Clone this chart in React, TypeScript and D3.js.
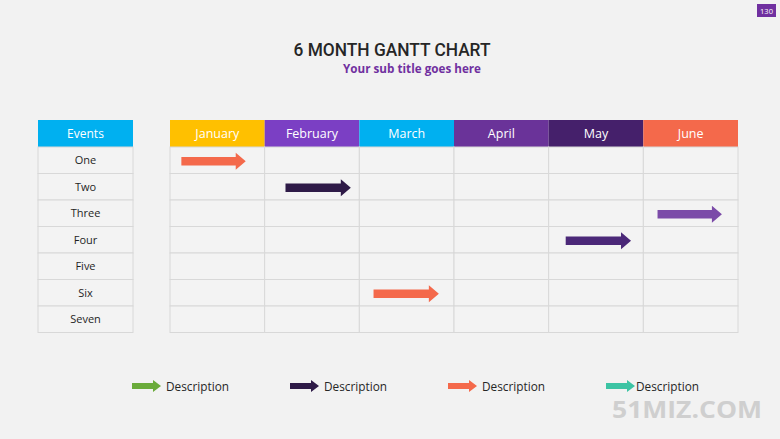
import React from "react";
import * as d3 from "d3";

const events = ["One", "Two", "Three", "Four", "Five", "Six", "Seven"];
const months = ["January", "February", "March", "April", "May", "June"];
const monthColors = ["#FFC000", "#7B3FC4", "#00B0F0", "#6A3399", "#45206B", "#F4694B"];
const tasks = [
  { event: "One", start: 0.12, end: 0.8, color: "#F4694B" },
  { event: "Two", start: 1.22, end: 1.91, color: "#2E1A47" },
  { event: "Three", start: 5.15, end: 5.83, color: "#7B4BA8" },
  { event: "Four", start: 4.18, end: 4.87, color: "#4B2878" },
  { event: "Six", start: 2.15, end: 2.84, color: "#F4694B" },
];
const legendColors = ["#6AAB3A", "#2E1A47", "#F4694B", "#3CC4A4"];
const legendLabels = ["Description", "Description", "Description", "Description"];

const W = 780, H = 439;
const FONT = "'Open Sans', 'Noto Sans', sans-serif";

function arrowPath(x0: number, x1: number, cy: number, shaft: number, head: number, headLen: number) {
  const p = d3.path();
  p.moveTo(x0, cy - shaft / 2);
  p.lineTo(x1 - headLen, cy - shaft / 2);
  p.lineTo(x1 - headLen, cy - head / 2);
  p.lineTo(x1, cy);
  p.lineTo(x1 - headLen, cy + head / 2);
  p.lineTo(x1 - headLen, cy + shaft / 2);
  p.lineTo(x0, cy + shaft / 2);
  p.closePath();
  return p.toString();
}

export default function App() {
  const x = d3.scaleLinear().domain([0, 6]).range([170, 738]);
  const y = d3.scaleBand<string>().domain(events).range([147, 332.5]);
  const headerTop = 120;
  const ex0 = 38, ex1 = 133;
  const grid = "#D8D8D8";
  const legendX = d3.scaleLinear().domain([0, 3]).range([132, 606]);

  return (
    <svg width={W} height={H} style={{ position: "absolute", left: 0, top: 0 }}>
      <rect width={W} height={H} fill="#F2F2F2" />
      {/* badge */}
      <rect x={757} y={4} width={19} height={13} fill="#7030A0" />
      <text x={766.5} y={13.5} fontSize={7.5} fill="#fff" textAnchor="middle" fontFamily={FONT}>130</text>
      {/* title */}
      <text x={392} y={55.5} textAnchor="middle" fontSize={18} fontWeight={500} fill="#262626"
        fontFamily="Roboto, sans-serif" textLength={197} lengthAdjust="spacingAndGlyphs">6 MONTH GANTT CHART</text>
      <text x={412} y={72.5} textAnchor="middle" fontSize={11.5} fontWeight={700} fill="#7030A0" fontFamily={FONT}
        textLength={138} lengthAdjust="spacingAndGlyphs">Your sub title goes here</text>

      {/* events table */}
      <rect x={ex0} y={headerTop} width={ex1 - ex0} height={147 - headerTop} fill="#00B0F0" />
      <text x={(ex0 + ex1) / 2} y={137.5} textAnchor="middle" fontSize={12} fill="#fff" fontFamily={FONT}>Events</text>
      {events.map((e) => (
        <g key={e}>
          <rect x={ex0} y={y(e)!} width={ex1 - ex0} height={y.bandwidth()} fill="#F3F3F3" stroke={grid} strokeWidth={1} />
          <text x={(ex0 + ex1) / 2} y={y(e)! + y.bandwidth() / 2 + 4} textAnchor="middle" fontSize={11} fill="#1F1F1F" fontFamily={FONT}>{e}</text>
        </g>
      ))}

      {/* month headers */}
      {months.map((m, i) => (
        <g key={m}>
          <rect x={x(i)} y={headerTop} width={x(i + 1) - x(i)} height={147 - headerTop} fill={monthColors[i]} />
          <text x={(x(i) + x(i + 1)) / 2} y={137.5} textAnchor="middle" fontSize={12.5} fill="#fff" fontFamily={FONT}>{m}</text>
        </g>
      ))}
      {/* grid cells */}
      {events.map((e) =>
        months.map((m, i) => (
          <rect key={e + m} x={x(i)} y={y(e)!} width={x(i + 1) - x(i)} height={y.bandwidth()} fill="#F3F3F3" stroke={grid} strokeWidth={1} />
        ))
      )}
      {/* arrows */}
      {tasks.map((t, i) => (
        <path key={i} d={arrowPath(x(t.start), x(t.end), y(t.event)! + y.bandwidth() / 2 + 1, 8.5, 17, 10)} fill={t.color} />
      ))}

      {/* legend */}
      {legendColors.map((c, i) => {
        const lx = legendX(i);
        return (
          <g key={i}>
            <path d={arrowPath(lx, lx + 29, 386, 6, 12, 8)} fill={c} />
            <text x={lx + (i === 3 ? 30 : 34)} y={390.5} fontSize={12} fill="#262626" fontFamily={FONT}
              textLength={63} lengthAdjust="spacingAndGlyphs">{legendLabels[i]}</text>
          </g>
        );
      })}

      {/* watermark */}
      <text x={687} y={418} textAnchor="middle" fontSize={23} fontWeight={700} fill="#CFCFCF" fontFamily={FONT}
        textLength={150} lengthAdjust="spacingAndGlyphs">51MIZ.COM</text>
    </svg>
  );
}
